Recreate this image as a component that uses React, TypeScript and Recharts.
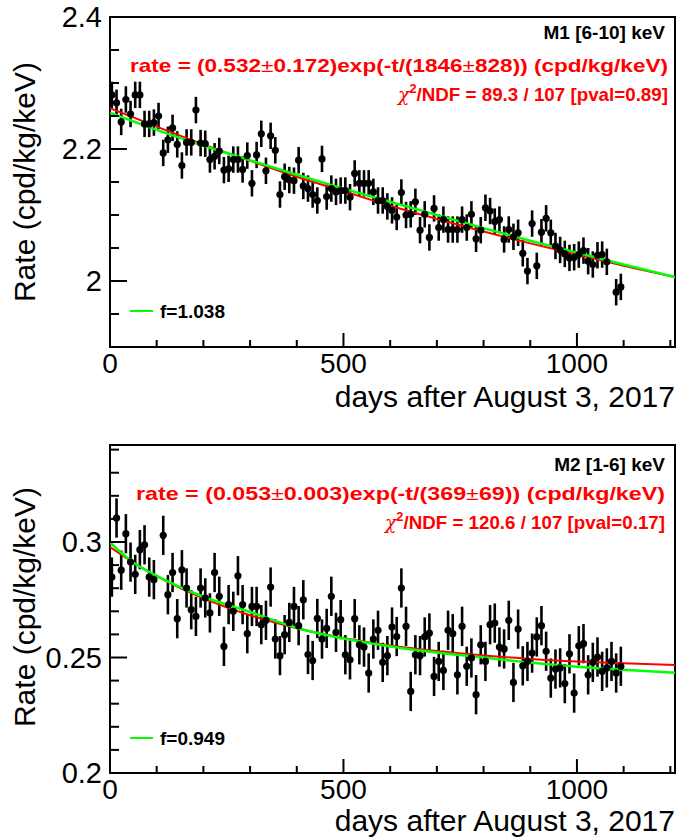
import React from 'react';
import { ComposedChart, Scatter, Line, XAxis, YAxis, ErrorBar, ReferenceArea } from 'recharts';

const FONT = '"Liberation Sans", Arial, Helvetica, sans-serif';

// M1 [6-10] keV
const topDays = [
  4, 14, 24, 34, 44, 54, 64, 74, 84, 94, 104, 114, 124, 134, 144, 154, 164, 174, 184, 194,
  204, 214, 224, 234, 244, 254, 264, 274, 284, 294, 304, 314, 324, 334, 344, 354, 364, 374, 384, 394,
  404, 414, 424, 434, 444, 454, 464, 474, 484, 494, 504, 514, 524, 534, 544, 554, 564, 574, 584, 594,
  604, 614, 624, 634, 644, 654, 664, 674, 684, 694, 704, 714, 724, 734, 744, 754, 764, 774, 784, 794,
  804, 814, 824, 834, 844, 854, 864, 874, 884, 894, 904, 914, 924, 934, 944, 954, 964, 974, 984, 994,
  1004, 1014, 1024, 1034, 1044, 1054, 1064, 1084, 1094,
];
const topRate = [
  2.282, 2.270, 2.241, 2.275, 2.253, 2.282, 2.282, 2.238, 2.238, 2.240,
  2.250, 2.194, 2.214, 2.232, 2.207, 2.175, 2.210, 2.210, 2.259, 2.209,
  2.208, 2.184, 2.189, 2.197, 2.168, 2.170, 2.184, 2.184, 2.169, 2.190,
  2.148, 2.191, 2.223, 2.167, 2.220, 2.198, 2.131, 2.158, 2.153, 2.152,
  2.183, 2.144, 2.140, 2.131, 2.122, 2.185, 2.128, 2.140, 2.135, 2.137,
  2.137, 2.127, 2.163, 2.148, 2.148, 2.148, 2.135, 2.122, 2.122, 2.113,
  2.107, 2.097, 2.134, 2.100, 2.101, 2.120, 2.077, 2.101, 2.066, 2.110,
  2.081, 2.093, 2.078, 2.078, 2.078, 2.093, 2.081, 2.101, 2.064, 2.077,
  2.111, 2.106, 2.090, 2.093, 2.063, 2.078, 2.067, 2.073, 2.042, 2.015,
  2.087, 2.023, 2.074, 2.095, 2.073, 2.053, 2.047, 2.041, 2.035, 2.036,
  2.040, 2.046, 2.030, 2.025, 2.039, 2.040, 2.029, 1.983, 1.991,
];
const topErr = 0.02;

const topFitDays = [0, 100, 200, 300, 400, 500, 600, 700, 800, 900, 1000, 1100, 1210];
const topRedFit = [2.262, 2.234, 2.207, 2.182, 2.158, 2.136, 2.114, 2.094, 2.075, 2.057, 2.040, 2.023, 2.006];
const topGreenFit = [2.255, 2.229, 2.205, 2.183, 2.161, 2.140, 2.120, 2.100, 2.080, 2.061, 2.043, 2.025, 2.006];

// M2 [1-6] keV
const bottomDays = [
  4, 14, 24, 34, 44, 54, 64, 74, 84, 94, 114, 124, 134, 144, 154, 164, 174, 184, 194,
  204, 214, 224, 234, 244, 254, 264, 274, 284, 294, 304, 314, 324, 334, 344, 354, 364, 374, 384, 394,
  404, 414, 424, 434, 444, 454, 464, 474, 484, 494, 504, 514, 524, 534, 544, 554, 564, 574, 584, 594,
  604, 614, 624, 634, 644, 654, 664, 674, 684, 694, 704, 714, 724, 734, 744, 754, 764, 774, 784, 794,
  804, 814, 824, 834, 844, 854, 864, 874, 884, 894, 904, 914, 924, 934, 944, 954, 964, 974, 984, 994,
  1004, 1014, 1024, 1034, 1044, 1054, 1064, 1074, 1084, 1094,
];
const bottomRate = [
  0.2848, 0.3104, 0.2878, 0.3036, 0.2913, 0.2860, 0.2967, 0.2988, 0.2848, 0.2837,
  0.3029, 0.2772, 0.2868, 0.2668, 0.2880, 0.2801, 0.2707, 0.2678, 0.2801, 0.2758,
  0.2693, 0.2868, 0.2765, 0.2548, 0.2729, 0.2700, 0.2854, 0.2729, 0.2603, 0.2721,
  0.2721, 0.2642, 0.2661, 0.2805, 0.2580, 0.2508, 0.2599, 0.2652, 0.2721,
  0.2638, 0.2750, 0.2513, 0.2487, 0.2669, 0.2580, 0.2626, 0.2765, 0.2609, 0.2664,
  0.2512, 0.2490, 0.2668, 0.2555, 0.2545, 0.2433, 0.2580, 0.2618, 0.2479, 0.2508,
  0.2632, 0.2591, 0.2801, 0.2635, 0.2353, 0.2512, 0.2508, 0.2589, 0.2606, 0.2418,
  0.2483, 0.2444, 0.2618, 0.2603, 0.2425, 0.2635, 0.2462, 0.2498, 0.2339, 0.2555,
  0.2483, 0.2642, 0.2649, 0.2545, 0.2537, 0.2661, 0.2392, 0.2623, 0.2464, 0.2483,
  0.2519, 0.2589, 0.2638, 0.2527, 0.2411, 0.2450, 0.2455, 0.2387, 0.2516, 0.2346,
  0.2551, 0.2560, 0.2425, 0.2479, 0.2502, 0.2440, 0.2455, 0.2483, 0.2433, 0.2462,
];
const bottomErr = 0.0085;

const bottomFitDays = [0, 50, 100, 200, 300, 400, 500, 600, 700, 800, 900, 1000, 1100, 1210];
const bottomRedFit = [0.2978, 0.2911, 0.2852, 0.2756, 0.2683, 0.2627, 0.2585, 0.2552, 0.2528, 0.2509, 0.2494, 0.2483, 0.2475, 0.2468];
const bottomGreenFit = [0.2998, 0.2911, 0.2853, 0.2763, 0.2697, 0.2629, 0.2582, 0.2548, 0.2522, 0.2500, 0.2478, 0.2460, 0.2447, 0.2434];

const xTicks = [0, 100, 200, 300, 400, 500, 600, 700, 800, 900, 1000, 1100, 1200];
const topYTicks = [1.9, 1.95, 2.0, 2.05, 2.1, 2.15, 2.2, 2.25, 2.3, 2.35, 2.4];
const bottomYTicks = [0.2, 0.21, 0.22, 0.23, 0.24, 0.25, 0.26, 0.27, 0.28, 0.29, 0.3, 0.31, 0.32, 0.33, 0.34];

const zip = (xs: number[], ys: number[], err?: number) =>
  xs.map((d, i) => (err === undefined ? { day: d, rate: ys[i] } : { day: d, rate: ys[i], err }));

const XTick = (props: any) => {
  const { x, y, payload } = props;
  const major = payload.value % 500 === 0;
  return (
    <g>
      <line x1={x} y1={y} x2={x} y2={y - (major ? 14 : 7)} stroke="#000" strokeWidth={2} />
      {major && (
        <text x={x} y={y + 26} textAnchor="middle" fontSize={28} fontFamily={FONT} fill="#000">
          {payload.value}
        </text>
      )}
    </g>
  );
};

const makeYTick = (step: number) => (props: any) => {
  const { x, y, payload } = props;
  const r = payload.value / step;
  const major = Math.abs(r - Math.round(r)) < 1e-6;
  return (
    <g>
      <line x1={x} y1={y} x2={x + (major ? 17 : 9)} y2={y} stroke="#000" strokeWidth={2} />
      {major && (
        <text x={x - 8} y={y} dy="0.36em" textAnchor="end" fontSize={29} fontFamily={FONT} fill="#000">
          {Number(payload.value.toFixed(2)).toString()}
        </text>
      )}
    </g>
  );
};

const dot = (p: any) => <circle cx={p.cx} cy={p.cy} r={3.6} fill="#000" />;

const Panel = ({ points, red, green, yDomain, yTicks, step, top }: any) => (
  <div style={{ position: 'absolute', left: 0, top }}>
    <ComposedChart width={679} height={top === 0 ? 420 : 419} margin={{ top: top === 0 ? 17 : 25, right: 4, bottom: top === 0 ? 33 : 26, left: 0 }}>
      <XAxis
        type="number"
        dataKey="day"
        domain={[0, 1210]}
        ticks={xTicks}
        interval={0}
        tickSize={0}
        tickMargin={0}
        height={40}
        axisLine={false}
        tickLine={false}
        tick={XTick}
        allowDataOverflow
      />
      <YAxis
        type="number"
        dataKey="rate"
        domain={yDomain}
        ticks={yTicks}
        interval={0}
        tickSize={0}
        tickMargin={0}
        width={110}
        axisLine={false}
        tickLine={false}
        tick={makeYTick(step)}
        allowDataOverflow
      />
      <Scatter data={points} dataKey="rate" shape={dot} isAnimationActive={false}>
        <ErrorBar dataKey="err" direction="y" width={0} stroke="#000" strokeWidth={2.6} isAnimationActive={false} />
      </Scatter>
      <Line data={red} dataKey="rate" type="monotone" stroke="#ff0000" strokeWidth={2} dot={false} isAnimationActive={false} />
      <Line data={green} dataKey="rate" type="monotone" stroke="#00ff00" strokeWidth={2.5} dot={false} isAnimationActive={false} />
      <ReferenceArea x1={0} x2={1210} y1={yDomain[0]} y2={yDomain[1]} fill="none" fillOpacity={0} stroke="#000" strokeWidth={2} ifOverflow="visible" />
    </ComposedChart>
  </div>
);

const Chi = ({ x, y, text, len }: any) => (
  <text x={x} y={y} textAnchor="end" fontSize={19} fontWeight="bold" fill="#ff0000" fontFamily={FONT} textLength={len} lengthAdjust="spacingAndGlyphs">
    <tspan fontStyle="italic" fontWeight="normal" fontFamily='"DejaVu Serif", serif'>χ</tspan>
    <tspan dy={-8} fontSize={13}>2</tspan>
    <tspan dy={8}>{text}</tspan>
  </text>
);

const Rate = ({ x, y, a, b, len }: any) => (
  <text x={x} y={y} textAnchor="end" fontSize={19} fontWeight="bold" fill="#ff0000" fontFamily={FONT} textLength={len} lengthAdjust="spacingAndGlyphs">
    {a[0]}
    <tspan fontWeight="normal">±</tspan>
    {a[1]}
    <tspan fontWeight="normal">±</tspan>
    {b}
  </text>
);

export default function App() {
  return (
    <div style={{ position: 'absolute', left: 0, top: 0, width: 679, height: 839, background: '#fff' }}>
      <Panel
        top={0}
        points={zip(topDays, topRate, topErr)}
        red={zip(topFitDays, topRedFit)}
        green={zip(topFitDays, topGreenFit)}
        yDomain={[1.9, 2.4]}
        yTicks={topYTicks}
        step={0.2}
      />
      <Panel
        top={420}
        points={zip(bottomDays, bottomRate, bottomErr)}
        red={zip(bottomFitDays, bottomRedFit)}
        green={zip(bottomFitDays, bottomGreenFit)}
        yDomain={[0.2, 0.342]}
        yTicks={bottomYTicks}
        step={0.05}
      />
      <svg width={679} height={839} style={{ position: 'absolute', left: 0, top: 0, pointerEvents: 'none' }}>
        <g fontFamily={FONT}>
          <text x={665} y={39} textAnchor="end" fontSize={19} fontWeight="bold" fill="#000">M1 [6-10] keV</text>
          <Rate x={668} y={72} a={['rate = (0.532', '0.172)exp(-t/(1846']} b="828)) (cpd/kg/keV)" len={538} />
          <Chi x={668} y={101} text="/NDF = 89.3 / 107 [pval=0.89]" len={270} />
          <line x1={130} y1={311} x2={153} y2={311} stroke="#00ff00" strokeWidth={2} />
          <text x={160} y={318} fontSize={19} fontWeight="bold" fill="#000">f=1.038</text>
          <text x={35} y={182} transform="rotate(-90 35 182)" textAnchor="middle" fontSize={30} fill="#000">Rate (cpd/kg/keV)</text>
          <text x={675} y={407} textAnchor="end" fontSize={30} fill="#000">days after August 3, 2017</text>

          <text x={665} y={471} textAnchor="end" fontSize={19} fontWeight="bold" fill="#000">M2 [1-6] keV</text>
          <Rate x={665} y={500} a={['rate = (0.053', '0.003)exp(-t/(369']} b="69)) (cpd/kg/keV)" len={529} />
          <Chi x={665} y={529} text="/NDF = 120.6 / 107 [pval=0.17]" len={280} />
          <line x1={130} y1={738} x2={153} y2={738} stroke="#00ff00" strokeWidth={2} />
          <text x={160} y={745} fontSize={19} fontWeight="bold" fill="#000">f=0.949</text>
          <text x={35} y={607} transform="rotate(-90 35 607)" textAnchor="middle" fontSize={30} fill="#000">Rate (cpd/kg/keV)</text>
          <text x={675} y={831} textAnchor="end" fontSize={30} fill="#000">days after August 3, 2017</text>
        </g>
      </svg>
    </div>
  );
}
